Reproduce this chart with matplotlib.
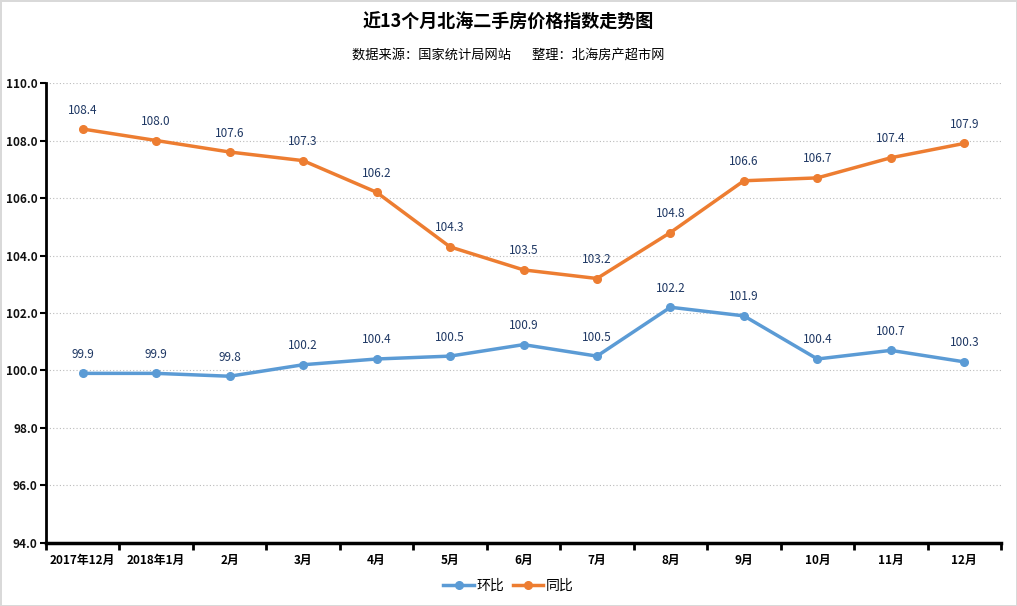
import numpy as np
import matplotlib.pyplot as plt
from matplotlib.ticker import FixedLocator, NullFormatter

plt.rcParams['font.family'] = ['Noto Sans CJK SC', 'DejaVu Sans']

months = ["2017年12月", "2018年1月", "2月", "3月", "4月", "5月", "6月",
          "7月", "8月", "9月", "10月", "11月", "12月"]
huanbi = [99.9, 99.9, 99.8, 100.2, 100.4, 100.5, 100.9, 100.5, 102.2, 101.9, 100.4, 100.7, 100.3]
tongbi = [108.4, 108.0, 107.6, 107.3, 106.2, 104.3, 103.5, 103.2, 104.8, 106.6, 106.7, 107.4, 107.9]

BLUE = "#5b9bd5"
ORANGE = "#ed7d31"
LABEL_C = "#1f3864"

fig = plt.figure(figsize=(10.17, 6.06), dpi=100)
fig.patch.set_edgecolor("#d9d9d9")
fig.patch.set_linewidth(2)
ax = fig.add_axes([0.0452, 0.104, 0.9391, 0.759])

x = np.arange(len(months))
ax.plot(x, huanbi, color=BLUE, lw=2.5, marker="o", ms=5.5, label="环比", zorder=3)
ax.plot(x, tongbi, color=ORANGE, lw=2.5, marker="o", ms=5.5, label="同比", zorder=3)

# 数据标签
for xi, v in zip(x, huanbi):
    ax.annotate(f"{v:.1f}", (xi, v), xytext=(0, 9), textcoords="offset points",
                ha="center", va="bottom", fontsize=8.5, color=LABEL_C)
for xi, v in zip(x, tongbi):
    ax.annotate(f"{v:.1f}", (xi, v), xytext=(0, 9), textcoords="offset points",
                ha="center", va="bottom", fontsize=8.5, color=LABEL_C)

ax.set_xlim(-0.5, len(months) - 0.5)
ax.set_ylim(94, 110)
ax.set_yticks(np.arange(94, 110.1, 2))
ax.set_yticklabels([f"{v:.1f}" for v in np.arange(94, 110.1, 2)],
                   fontsize=8.5, fontweight="bold", color="#111111")
ax.set_xticks(x)
ax.set_xticklabels(months, fontsize=8.5, fontweight="bold")
ax.xaxis.set_minor_locator(FixedLocator(np.arange(-0.5, len(months), 1)))
ax.xaxis.set_minor_formatter(NullFormatter())
ax.tick_params(axis="x", which="major", length=0, pad=8)
ax.tick_params(axis="x", which="minor", length=5, width=2, direction="out")
ax.tick_params(axis="y", length=4, width=1.5, pad=2)

ax.grid(axis="y", linestyle=(0, (1, 2)), color="#bbbbbb", lw=0.8)
for s in ["top", "right"]:
    ax.spines[s].set_visible(False)
ax.spines["left"].set_linewidth(2)
ax.spines["bottom"].set_linewidth(2.5)

fig.text(0.5, 0.963, "近13个月北海二手房价格指数走势图", ha="center", va="center",
         fontsize=13, fontweight="bold")
fig.text(0.5, 0.909, "数据来源：国家统计局网站       整理：北海房产超市网", ha="center",
         va="center", fontsize=9.5)

fig.legend(loc="center", bbox_to_anchor=(0.5, 0.034), ncol=2, frameon=False,
           fontsize=10, handlelength=2.2, handletextpad=0.2, columnspacing=0.6)

fig.savefig("out.png", dpi=100, edgecolor=fig.get_edgecolor())
